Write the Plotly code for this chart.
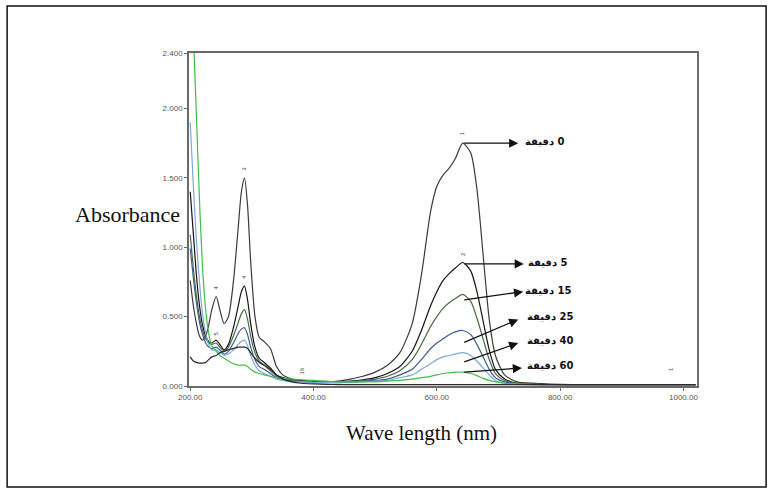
import plotly.graph_objects as go

# Wavelength grid (nm)
wavelength = [200, 205, 210, 215, 220, 225, 230, 235, 242, 248, 255, 262, 270, 278, 283, 288,
              293, 298, 305, 312, 320, 330, 340, 350, 365, 380, 400, 420, 440, 460, 480, 500,
              520, 540, 560, 575, 590, 600, 610, 620, 630, 642, 655, 665, 675, 685, 695, 710,
              730, 760, 800, 850, 900, 950, 1000, 1020]

abs_0 = [0.76, 0.58, 0.45, 0.36, 0.33, 0.36, 0.44, 0.55, 0.645, 0.55, 0.45, 0.50, 0.75, 1.15, 1.40, 1.50,
         1.30, 0.90, 0.50, 0.35, 0.32, 0.27, 0.14, 0.08, 0.05, 0.04, 0.03, 0.03, 0.035, 0.05, 0.07, 0.10,
         0.15, 0.24, 0.45, 0.80, 1.26, 1.44, 1.52, 1.57, 1.64, 1.75, 1.68, 1.42, 0.95, 0.48, 0.22, 0.08,
         0.03, 0.02, 0.012, 0.01, 0.01, 0.01, 0.01, 0.01]
abs_5 = [1.40, 1.10, 0.80, 0.58, 0.44, 0.36, 0.32, 0.31, 0.33, 0.30, 0.26, 0.30, 0.42, 0.58, 0.68, 0.72,
         0.62, 0.45, 0.28, 0.20, 0.17, 0.13, 0.08, 0.06, 0.045, 0.04, 0.03, 0.03, 0.03, 0.035, 0.045, 0.06,
         0.09, 0.14, 0.25, 0.40, 0.58, 0.68, 0.76, 0.81, 0.85, 0.89, 0.83, 0.68, 0.47, 0.26, 0.12, 0.05,
         0.02, 0.015, 0.01, 0.01, 0.01, 0.01, 0.01, 0.01]
abs_15 = [1.09, 0.85, 0.65, 0.50, 0.40, 0.34, 0.31, 0.30, 0.31, 0.28, 0.25, 0.28, 0.36, 0.46, 0.52, 0.55,
          0.48, 0.36, 0.24, 0.18, 0.15, 0.11, 0.07, 0.05, 0.04, 0.035, 0.03, 0.03, 0.03, 0.03, 0.04, 0.05,
          0.07, 0.11, 0.19, 0.30, 0.43, 0.50, 0.56, 0.60, 0.63, 0.66, 0.61, 0.49, 0.34, 0.19, 0.09, 0.04,
          0.02, 0.012, 0.01, 0.01, 0.01, 0.01, 0.01, 0.01]
abs_25 = [0.99, 0.78, 0.60, 0.46, 0.37, 0.31, 0.28, 0.27, 0.28, 0.26, 0.23, 0.25, 0.31, 0.38, 0.41, 0.42,
          0.37, 0.28, 0.19, 0.14, 0.12, 0.09, 0.06, 0.045, 0.035, 0.03, 0.025, 0.025, 0.025, 0.03, 0.035, 0.04,
          0.05, 0.08, 0.12, 0.19, 0.27, 0.31, 0.34, 0.37, 0.39, 0.40, 0.37, 0.30, 0.21, 0.12, 0.06, 0.03,
          0.015, 0.01, 0.01, 0.01, 0.01, 0.01, 0.01, 0.01]
abs_40 = [1.90, 1.45, 1.05, 0.75, 0.52, 0.38, 0.30, 0.26, 0.26, 0.24, 0.22, 0.23, 0.26, 0.30, 0.32, 0.33,
          0.29, 0.22, 0.15, 0.11, 0.09, 0.07, 0.05, 0.04, 0.03, 0.03, 0.025, 0.025, 0.025, 0.025, 0.03, 0.035,
          0.04, 0.06, 0.08, 0.12, 0.16, 0.19, 0.21, 0.22, 0.23, 0.24, 0.22, 0.18, 0.13, 0.08, 0.04, 0.02,
          0.012, 0.01, 0.01, 0.01, 0.01, 0.01, 0.01, 0.01]
abs_60 = [3.10, 2.55, 1.95, 1.34, 0.85, 0.55, 0.38, 0.29, 0.25, 0.22, 0.20, 0.18, 0.16, 0.15, 0.15, 0.15,
          0.14, 0.12, 0.10, 0.09, 0.08, 0.07, 0.06, 0.055, 0.05, 0.045, 0.04, 0.035, 0.03, 0.03, 0.03, 0.03,
          0.035, 0.04, 0.05, 0.06, 0.07, 0.08, 0.09, 0.095, 0.10, 0.10, 0.09, 0.075, 0.055, 0.04, 0.03, 0.02,
          0.015, 0.012, 0.01, 0.01, 0.01, 0.01, 0.01, 0.01]
abs_base = [0.21, 0.18, 0.17, 0.165, 0.165, 0.17, 0.19, 0.21, 0.22, 0.24, 0.25, 0.26, 0.27, 0.28, 0.28, 0.28,
            0.27, 0.24, 0.20, 0.17, 0.15, 0.12, 0.08, 0.05, 0.03, 0.02, 0.015, 0.012, 0.01, 0.01, 0.01, 0.01,
            0.01, 0.01, 0.01, 0.01, 0.01, 0.01, 0.01, 0.01, 0.01, 0.01, 0.01, 0.01, 0.01, 0.01, 0.01, 0.01,
            0.01, 0.01, 0.01, 0.01, 0.01, 0.01, 0.01, 0.01]

series_names = ["0 min", "5 min", "15 min", "25 min", "40 min", "60 min", "baseline"]
series_values = [abs_0, abs_5, abs_15, abs_25, abs_40, abs_60, abs_base]
series_colors = ["#3a3a3a", "#141414", "#4c6a44", "#3f5d8c", "#7eaad4", "#3cc04c", "#2a2a2a"]

# Arrow labels (time in minutes) and arrow geometry in data units
label_times = ["0", "5", "15", "25", "40", "60"]
arrow_tail = [(642, 1.75), (642, 0.88), (642, 0.62), (642, 0.31), (642, 0.17), (642, 0.10)]
arrow_head = [(732, 1.75), (741, 0.88), (740, 0.68), (732, 0.48), (732, 0.31), (738, 0.13)]
label_pos = [(776, 1.76), (781, 0.89), (781, 0.69), (783, 0.50), (783, 0.33), (783, 0.15)]

x_ticks = [200, 400, 600, 800, 1000]
y_ticks = [0, 0.5, 1.0, 1.5, 2.0, 2.4]

fig = go.Figure()
for name, vals, col in zip(series_names, series_values, series_colors):
    fig.add_trace(go.Scatter(x=wavelength, y=vals, mode="lines", name=name,
                             line=dict(color=col, width=1.2, shape="spline", smoothing=0.7),
                             showlegend=False))

for t, (tx, ty), (hx, hy), (lx, ly) in zip(label_times, arrow_tail, arrow_head, label_pos):
    fig.add_annotation(x=hx, y=hy, ax=tx, ay=ty, xref="x", yref="y", axref="x", ayref="y",
                       text="", showarrow=True, arrowhead=2, arrowsize=1.4, arrowwidth=1.3,
                       arrowcolor="#111")
    fig.add_annotation(x=lx, y=ly, xref="x", yref="y", showarrow=False, xanchor="center",
                       text="<b>\u202B" + t + " دقيقة" + "\u202C</b>",
                       font=dict(family="DejaVu Sans", size=10, color="#111"))

# small peak-pick markers
peak_marks = [(642, 1.82, "1"), (288, 1.57, "3"), (242, 0.71, "4"), (642, 0.95, "2"),
              (288, 0.79, "4"), (242, 0.38, "5"), (381, 0.11, "16"), (981, 0.12, "1")]
for px, py, txt in peak_marks:
    fig.add_annotation(x=px, y=py, xref="x", yref="y", text=txt, showarrow=False,
                       textangle=-90, font=dict(family="Liberation Sans", size=6, color="#444"))

# Axis titles
fig.add_annotation(x=-0.122, y=0.514, xref="paper", yref="paper", text="Absorbance",
                   xanchor="center", yanchor="middle",
                   showarrow=False, font=dict(family="Liberation Serif", size=22, color="#111"))
fig.add_annotation(x=0.458, y=-0.14, xref="paper", yref="paper", text="Wave length (nm)",
                   xanchor="center", yanchor="middle",
                   showarrow=False, font=dict(family="Liberation Serif", size=21, color="#111"))

# outer border
fig.add_shape(type="rect", xref="paper", yref="paper", x0=-0.358, x1=1.136, y0=-0.303, y1=1.141,
              line=dict(color="#111", width=1.5))

fig.update_xaxes(range=[198, 1022], tickvals=x_ticks,
                 ticktext=[f"{v:.2f}" for v in x_ticks], showgrid=False, zeroline=False,
                 showline=True, mirror=True, linecolor="#6a6a6a", linewidth=1.5,
                 ticks="outside", ticklen=3, tickcolor="#6a6a6a",
                 tickfont=dict(family="Liberation Sans", size=8, color="#555"))
fig.update_yaxes(range=[0, 2.4], tickvals=y_ticks,
                 ticktext=[f"{v:.3f}" for v in y_ticks], showgrid=False, zeroline=False,
                 showline=True, mirror=True, linecolor="#6a6a6a", linewidth=1.5,
                 ticks="outside", ticklen=3, tickcolor="#6a6a6a",
                 tickfont=dict(family="Liberation Sans", size=8, color="#555"))

fig.update_layout(width=768, height=488, margin=dict(l=189, r=71, t=53, b=102),
                  plot_bgcolor="white", paper_bgcolor="white")

fig.write_html("out.html")
